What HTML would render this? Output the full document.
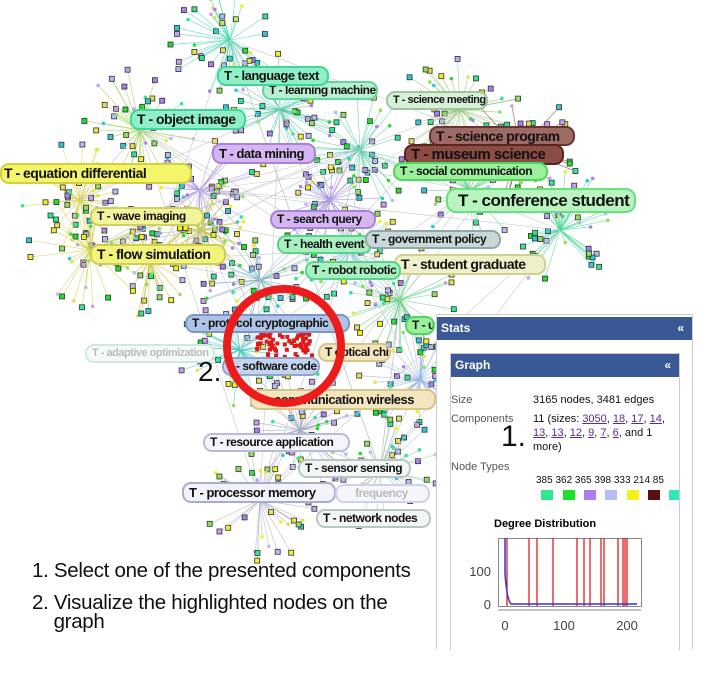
<!DOCTYPE html>
<html><head><meta charset="utf-8">
<style>
html,body{margin:0;padding:0;background:#fff;}
body{width:711px;height:675px;position:relative;overflow:hidden;font-family:"Liberation Sans",sans-serif;}
svg{position:absolute;left:0;top:0;}
.pill{position:absolute;border-radius:9px;font-weight:bold;color:#111;white-space:nowrap;font-size:12px;line-height:15px;padding:0 5px;border:2px solid;box-sizing:border-box;letter-spacing:-0.5px;overflow:hidden;}
.panel{position:absolute;left:436px;top:314px;width:255px;height:334px;border:1px solid #ccc;border-bottom:none;background:#fff;}
.hdr{background:#3a5796;color:#fff;font-weight:bold;font-size:12px;height:23px;line-height:23px;padding-left:4px;position:relative;}
.hdr span{position:absolute;right:8px;top:0;}
.inner{position:absolute;left:13px;top:38px;width:228px;height:296px;border:1px solid #ccc;border-bottom:none;}
.lab{position:absolute;font-size:11px;color:#555;}
.val{position:absolute;font-size:11px;color:#111;line-height:14px;}
.val u{color:#5a2c8c;}
.txt{position:absolute;left:32px;font-size:20.5px;color:#111;line-height:19px;letter-spacing:-0.3px;}
</style></head><body>
<svg id="g" width="711" height="675"></svg>

<div class="pill" style="left:262px;top:81px;width:116px;background:#b8efd0;border-color:#5ed99a;">T - learning machine</div>
<div class="pill" style="left:217px;top:66px;width:112px;background:#8ff0c8;border-color:#3fd69a;font-size:13px;line-height:16px;">T - language text</div>
<div class="pill" style="left:130px;top:109px;width:116px;background:#8ff0c8;border-color:#3fd69a;font-size:14px;line-height:17px;">T - object image</div>
<div class="pill" style="left:386px;top:91px;width:102px;background:#d8f0d8;border-color:#9cc79c;font-size:11px;">T - science meeting</div>
<div class="pill" style="left:429px;top:126px;width:146px;background:#9e6a64;border-color:#6a3530;font-size:14px;line-height:16px;">T - science program</div>
<div class="pill" style="left:404px;top:144px;width:160px;background:#8a4c45;border-color:#5a2520;font-size:15px;line-height:17px;">T - museum science</div>
<div class="pill" style="left:212px;top:143px;width:104px;background:#d6b6f2;border-color:#a884d8;font-size:13px;line-height:17px;">T - data mining</div>
<div class="pill" style="left:393px;top:162px;width:155px;background:#9af09c;border-color:#4fd65a;">T - social communication</div>
<div class="pill" style="left:0px;top:163px;width:192px;background:#f5f56a;border-color:#d0d040;font-size:14px;line-height:17px;padding-left:2px;">T - equation differential</div>
<div class="pill" style="left:446px;top:188px;width:190px;background:#b8f3c0;border-color:#6adf80;font-size:17px;line-height:21px;padding-left:10px;border-radius:10px;">T - conference student</div>
<div class="pill" style="left:90px;top:207px;width:114px;background:#f2f39a;border-color:#cfd060;">T - wave imaging</div>
<div class="pill" style="left:270px;top:210px;width:106px;background:#d6b6f2;border-color:#a884d8;">T - search query</div>
<div class="pill" style="left:277px;top:235px;width:95px;background:#a8f0c0;border-color:#5ad48a;">T - health event</div>
<div class="pill" style="left:365px;top:230px;width:136px;background:#c8d8d8;border-color:#90a8a8;">T - government policy</div>
<div class="pill" style="left:90px;top:244px;width:136px;background:#f2f37a;border-color:#cfd050;font-size:14px;line-height:17px;">T - flow simulation</div>
<div class="pill" style="left:394px;top:254px;width:152px;background:#f0f0c8;border-color:#d0d090;font-size:14px;line-height:17px;">T - student graduate</div>
<div class="pill" style="left:305px;top:261px;width:96px;background:#a8f0c0;border-color:#5ad48a;">T - robot robotic</div>
<div class="pill" style="left:405px;top:316px;width:30px;background:#9af09c;border-color:#4fd65a;">T - u</div>
<div class="pill" style="left:185px;top:314px;width:165px;background:#aec3e6;border-color:#7e96c4;">T - protocol cryptographic</div>
<div class="pill" style="left:85px;top:344px;width:130px;background:#f4fbf8;border-color:#cfe9e0;color:#bbb;font-size:11px;">T - adaptive optimization</div>
<div class="pill" style="left:318px;top:343px;width:73px;background:#f3e6bf;border-color:#d8c58a;">T optical chip</div>
<div class="pill" style="left:222px;top:357px;width:98px;background:#c4d4ee;border-color:#90a4cc;padding-left:12px;">- software code</div>
<div class="pill" style="left:250px;top:389px;width:186px;background:#f3e6bf;border-color:#d8c58a;font-size:13px;line-height:17px;padding-left:22px;">communication wireless</div>
<div class="pill" style="left:203px;top:433px;width:147px;background:#f4f4fa;border-color:#b8bcd8;">T - resource application</div>
<div class="pill" style="left:298px;top:459px;width:113px;background:#f2f6f4;border-color:#b8c8c0;">T - sensor sensing</div>
<div class="pill" style="left:182px;top:482px;width:154px;background:#f2f2fb;border-color:#a8acd0;font-size:13px;line-height:17px;">T - processor memory</div>
<div class="pill" style="left:335px;top:484px;width:95px;background:#f5f5fc;border-color:#d0d0ea;color:#bbb;padding-left:18px;">frequency</div>
<div class="pill" style="left:316px;top:509px;width:115px;background:#f2f6f4;border-color:#b8c8c0;">T - network nodes</div>

<svg width="711" height="675" style="pointer-events:none">
<circle cx="284" cy="346" r="57" fill="none" stroke="#ec1c1c" stroke-width="8"/>
</svg>
<div style="position:absolute;left:198px;top:356px;font-size:28px;color:#111;">2.</div>

<div class="panel">
 <div class="hdr" style="margin-top:2px;">Stats<span>«</span></div>
 <div class="inner">
  <div class="hdr">Graph<span>«</span></div>
  <div class="lab" style="left:0;top:40px;">Size</div>
  <div class="val" style="left:82px;top:39px;">3165 nodes, 3481 edges</div>
  <div class="lab" style="left:0;top:59px;">Components</div>
  <div class="val" style="left:82px;top:58px;width:146px;">11 (sizes: <u>3050</u>, <u>18</u>, <u>17</u>, <u>14</u>, <u>13</u>, <u>13</u>, <u>12</u>, <u>9</u>, <u>7</u>, <u>6</u>, and 1 more)</div>
  <div style="position:absolute;left:50px;top:66px;font-size:30px;color:#111;">1.</div>
  <div class="lab" style="left:0;top:107px;">Node Types</div>
  <div class="val" style="left:85px;top:120px;font-size:10px;">385 362 365 398 333 214 85</div>
  <div style="position:absolute;left:90px;top:136px;width:12px;height:10px;background:#2ee88f;"></div>
  <div style="position:absolute;left:112px;top:136px;width:12px;height:10px;background:#1ee02a;"></div>
  <div style="position:absolute;left:133px;top:136px;width:12px;height:10px;background:#a87ef0;"></div>
  <div style="position:absolute;left:154px;top:136px;width:12px;height:10px;background:#b8bcf4;"></div>
  <div style="position:absolute;left:176px;top:136px;width:12px;height:10px;background:#f4f01e;"></div>
  <div style="position:absolute;left:197px;top:136px;width:12px;height:10px;background:#5a1010;"></div>
  <div style="position:absolute;left:218px;top:136px;width:10px;height:10px;background:#30e8b8;"></div>
  <div style="position:absolute;left:43px;top:164px;font-size:11px;font-weight:bold;">Degree Distribution</div>
  <svg width="228" height="120" style="left:0;top:180px;">
   <rect x="47.5" y="4.5" width="143" height="68" fill="#fff" stroke="#888"/>
   <g stroke="#e02020" stroke-width="1.3">
    <line x1="56" y1="4" x2="56" y2="72"/><line x1="78" y1="4" x2="78" y2="72"/><line x1="86" y1="4" x2="86" y2="72"/>
    <line x1="102" y1="4" x2="102" y2="72"/><line x1="126" y1="4" x2="126" y2="72"/><line x1="133" y1="4" x2="133" y2="72"/>
    <line x1="139" y1="4" x2="139" y2="72"/><line x1="150" y1="4" x2="150" y2="72"/><line x1="153" y1="4" x2="153" y2="72"/>
    <line x1="167" y1="4" x2="167" y2="72"/><line x1="172" y1="4" x2="172" y2="72"/><line x1="174" y1="4" x2="174" y2="72"/><line x1="176" y1="4" x2="176" y2="72"/>
   </g>
   <path d="M54,4 L54,40 Q56,66 60,70 L186,70" fill="none" stroke="#4030d0" stroke-width="1.5"/>
   <line x1="47" y1="76" x2="190" y2="76" stroke="#888"/>
   <text x="40" y="42" font-size="13" fill="#444" text-anchor="end">100</text>
   <text x="40" y="75" font-size="13" fill="#444" text-anchor="end">0</text>
   <text x="54" y="96" font-size="13" fill="#444" text-anchor="middle">0</text>
   <text x="113" y="96" font-size="13" fill="#444" text-anchor="middle">100</text>
   <text x="176" y="96" font-size="13" fill="#444" text-anchor="middle">200</text>
  </svg>
 </div>
</div>

<div class="txt" style="top:561px;">1. Select one of the presented components</div>
<div class="txt" style="top:593px;">2. Visualize the highlighted nodes on the<br>&nbsp;&nbsp;&nbsp;&nbsp;graph</div>

<script>
(function(){
var s=12345;function r(){s=(s*1103515245+12345)%2147483648;return s/2147483648;}
var svg=document.getElementById('g'),h='';
var hubs=[[230,40,'#40d8b0'],[140,130,'#9ad040'],[80,200,'#d8d040'],[150,260,'#c8b830'],[280,110,'#40c8a0'],[460,110,'#90c060'],[520,150,'#7a3a30'],[560,230,'#40d890'],[330,200,'#a080e0'],[260,280,'#80b0c0'],[240,350,'#40c8c0'],[420,380,'#90b0e0'],[300,430,'#a0a0c0'],[260,500,'#b0b0c0'],[380,470,'#a0c0b0'],[200,190,'#b090e0'],[400,300,'#60d080'],[360,150,'#50d0a0'],[90,250,'#d0d040'],[200,230,'#c0c040'],[350,250,'#80c0d0'],[470,190,'#60d080']];
var cols=['#2ee88f','#1ee02a','#a87ef0','#b8bcf4','#f4f01e','#e8e050','#30c8d8','#c8a0f0','#90e060'];
hubs.forEach(function(hb){
 var n=45;
 for(var i=0;i<n;i++){
  var a=r()*6.283,d=12+r()*50;
  var x=hb[0]+Math.cos(a)*d,y=hb[1]+Math.sin(a)*d;
  h+='<line x1="'+hb[0]+'" y1="'+hb[1]+'" x2="'+x.toFixed(1)+'" y2="'+y.toFixed(1)+'" stroke="'+hb[2]+'" stroke-width="0.7" opacity="0.7"/>';
  var c=cols[Math.floor(r()*cols.length)];
  if(r()<0.65) h+='<rect x="'+(x-2.5).toFixed(1)+'" y="'+(y-2.5).toFixed(1)+'" width="5" height="5" fill="'+c+'" stroke="#333" stroke-width="0.8"/>';
  else h+='<circle cx="'+x.toFixed(1)+'" cy="'+y.toFixed(1)+'" r="1.8" fill="'+c+'"/>';
 }
});
for(var i=0;i<60;i++){var a=hubs[Math.floor(r()*hubs.length)],b=hubs[Math.floor(r()*hubs.length)];h+='<line x1="'+a[0]+'" y1="'+a[1]+'" x2="'+b[0]+'" y2="'+b[1]+'" stroke="#c0c8d0" stroke-width="0.6"/>';}
for(var i=0;i<70;i++){var x=255+r()*55,y=330+r()*25;h+='<rect x="'+x.toFixed(1)+'" y="'+y.toFixed(1)+'" width="4" height="4" fill="#e01818"/>';}
svg.innerHTML=h;
})();
</script>
</body></html>
